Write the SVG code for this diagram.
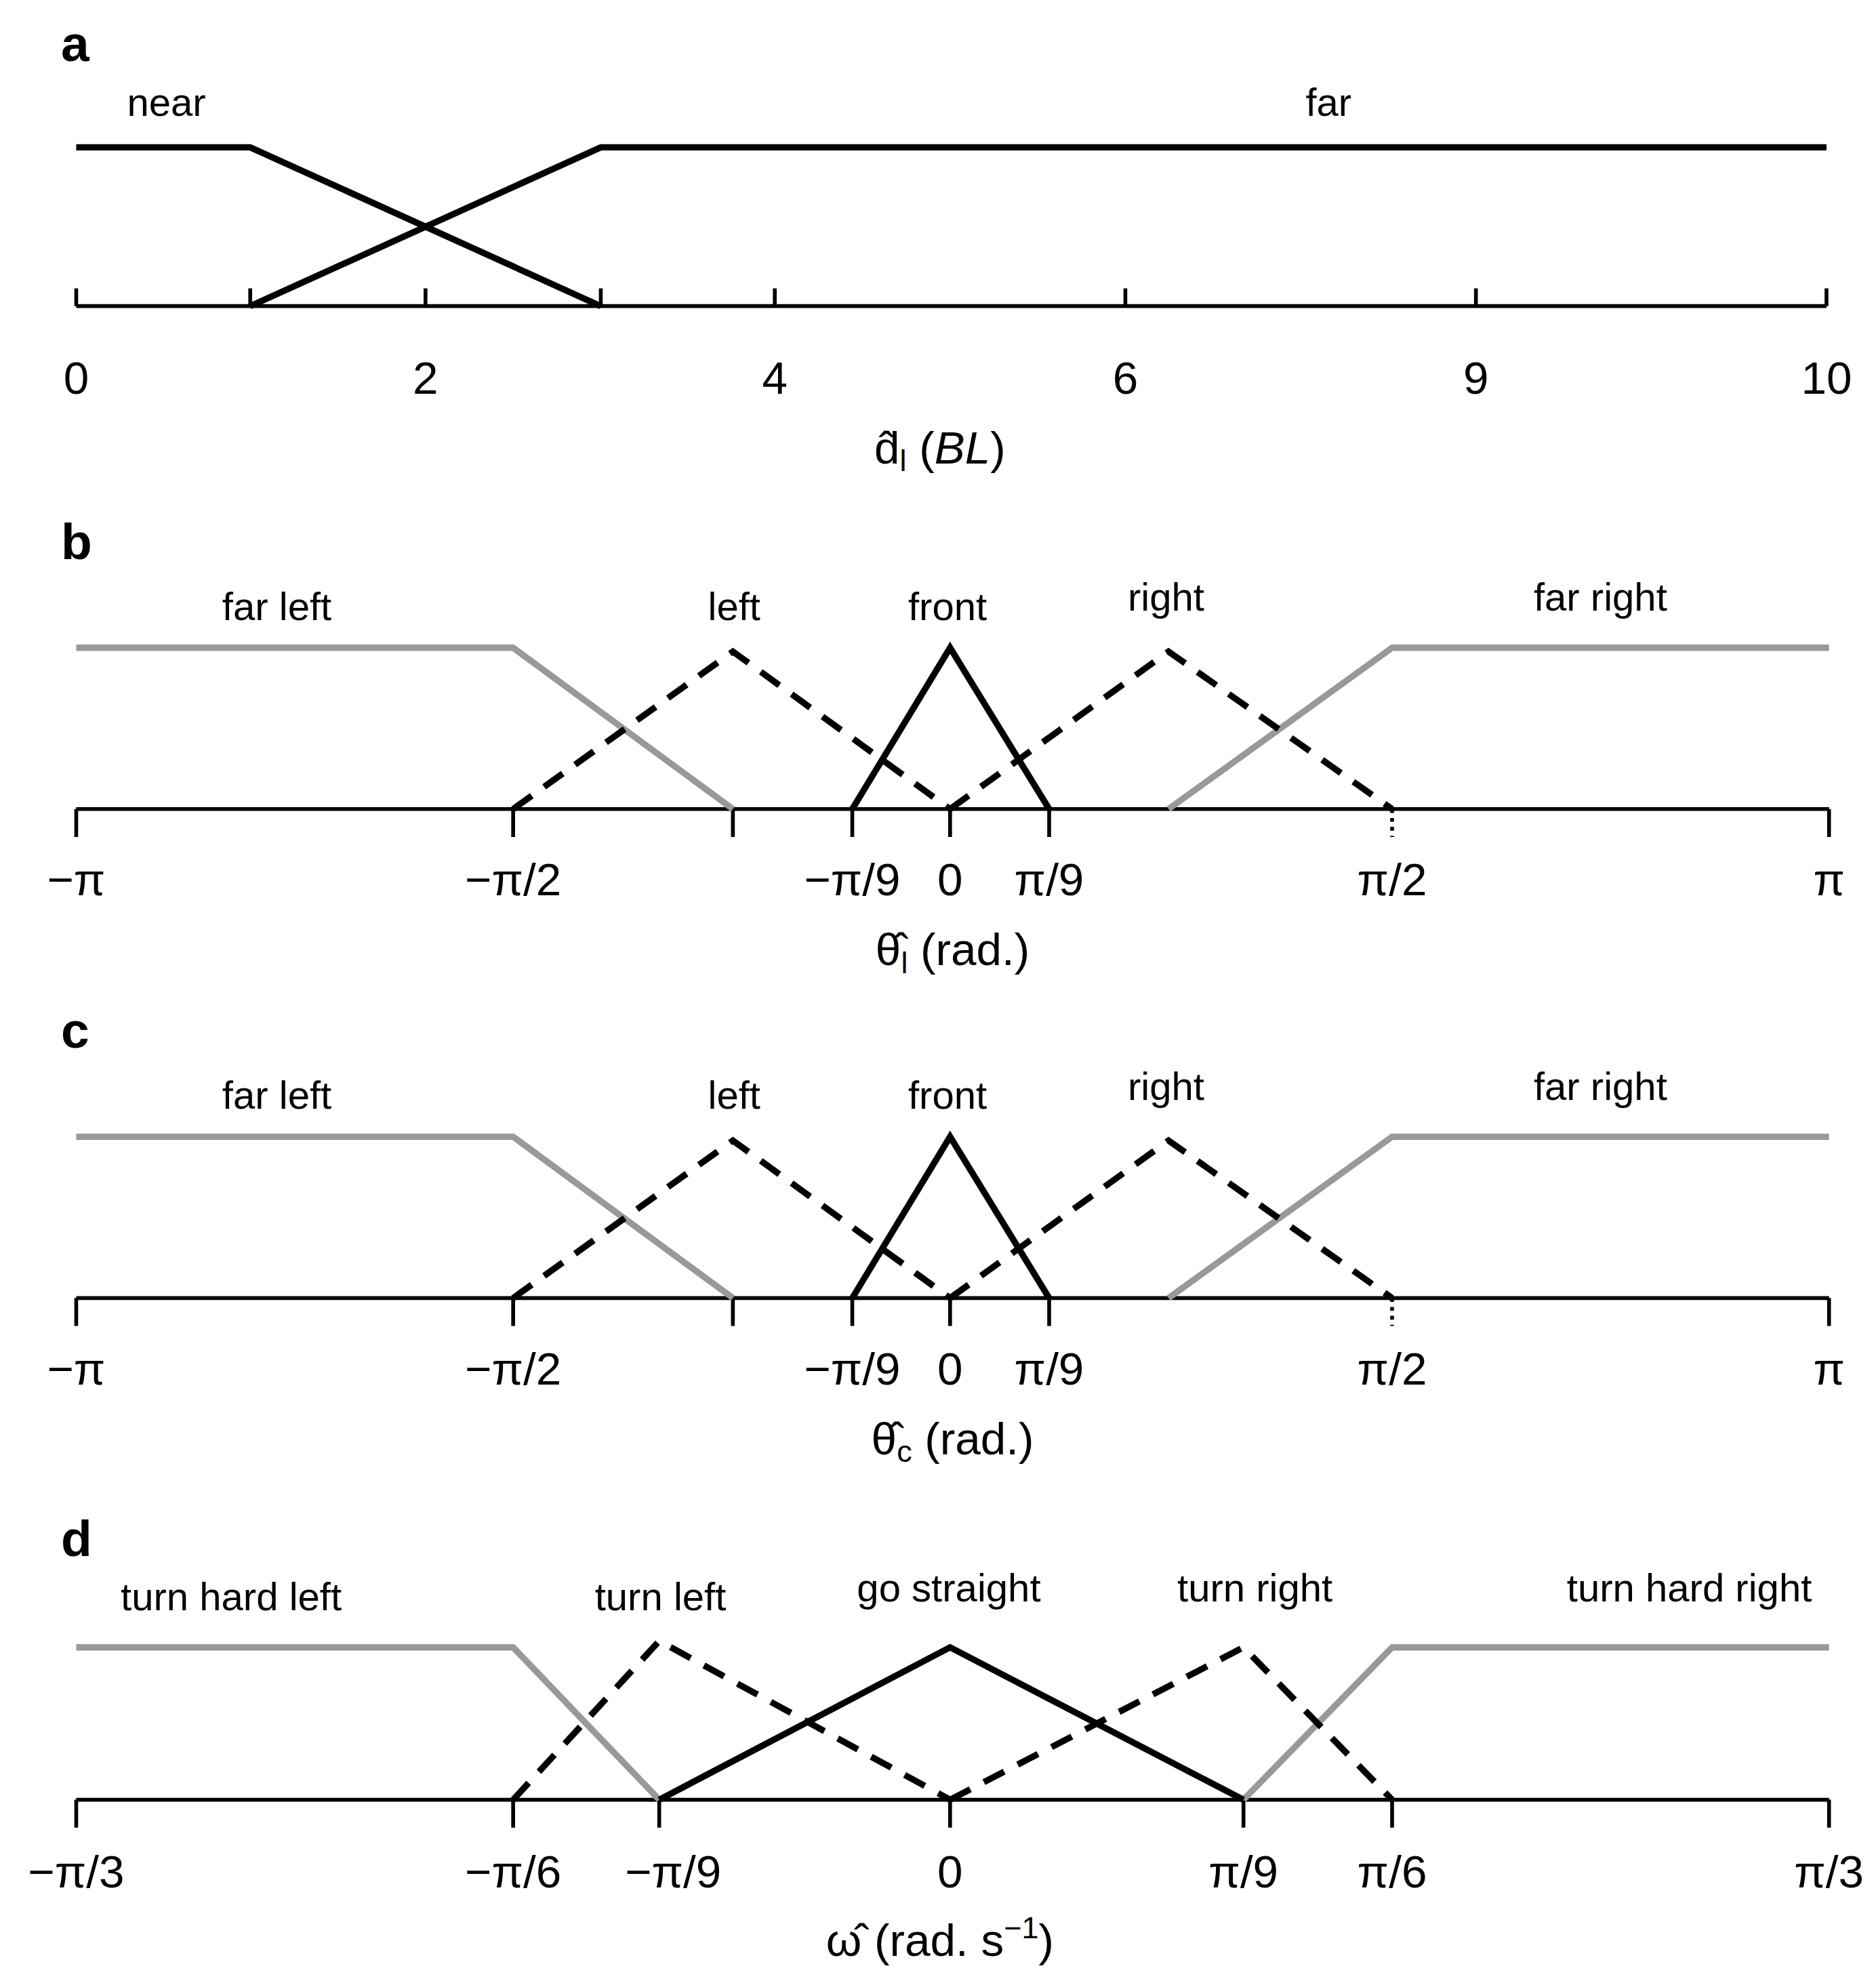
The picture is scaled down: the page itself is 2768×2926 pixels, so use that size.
<svg xmlns="http://www.w3.org/2000/svg" width="2768" height="2926" viewBox="0 0 2768 2926">
<style>
text{font-family:"Liberation Sans",Arial,sans-serif;fill:#000}
.t{font-size:36px;text-anchor:middle}
.c{font-size:31px;text-anchor:middle}
.p{font-size:40px;font-weight:bold}
.ax{stroke:#000;stroke-width:3;fill:none}
.k{stroke:#000;stroke-width:5;fill:none;stroke-linejoin:miter}
.d{stroke:#000;stroke-width:5;fill:none;stroke-dasharray:18,12}
.g{stroke:#999;stroke-width:5;fill:none}
</style>
<rect width="2768" height="2926" fill="#fff"/>
<g transform="scale(1.8741)">
<g id="panel-a">
<text class="p" x="48" y="48">a</text>
<text class="c" x="131" y="91">near</text>
<text class="c" x="1046" y="91">far</text>
<path class="ax" d="M60 241H1438M60 241v-14M197 241v-14M335 241v-14M473 241v-14M610 241v-14M886 241v-14M1162 241v-14M1438 241v-14"/>
<g id="connectors-a">
<polyline class="k" points="60,116 197,116 473,241"/>
<polyline class="k" points="197,241 473,116 1438,116"/>
</g>
<text class="t" x="60" y="310">0</text><text class="t" x="335" y="310">2</text><text class="t" x="610" y="310">4</text><text class="t" x="886" y="310">6</text><text class="t" x="1162" y="310">9</text><text class="t" x="1438" y="310">10</text>
<text class="t" x="740" y="365">d̂<tspan font-size="24" dy="6">l</tspan><tspan dy="-6"> (</tspan><tspan font-style="italic">BL</tspan>)</text>
</g>
<g id="panel-b">
<text class="p" x="48" y="440">b</text>
<text class="c" x="218" y="488">far left</text><text class="c" x="578" y="488">left</text><text class="c" x="746" y="488">front</text><text class="c" x="918" y="481">right</text><text class="c" x="1260" y="481">far right</text>
<path class="ax" d="M60 637H1440M60 637v22M404 637v22M577 637v22M671 637v22M748 637v22M826 637v22M1440 637v22"/>
<path class="ax" d="M1096 637v22" stroke-dasharray="3,4"/>
<g id="connectors-b">
<polyline class="g" points="60,510 404,510 577,637"/>
<polyline class="g" points="920,637 1096,510 1440,510"/>
<polyline class="d" points="404,637 577,513 748,637"/>
<polyline class="d" points="748,637 920,513 1096,637"/>
<polyline class="k" points="671,637 748,510 826,637"/>
</g>
<text class="t" x="60" y="705">−π</text><text class="t" x="404" y="705">−π/2</text><text class="t" x="671" y="705">−π/9</text><text class="t" x="748" y="705">0</text><text class="t" x="826" y="705">π/9</text><text class="t" x="1096" y="705">π/2</text><text class="t" x="1440" y="705">π</text>
<text class="t" x="750" y="760">θ̂<tspan font-size="24" dy="6">l</tspan><tspan dy="-6"> (rad.)</tspan></text>
</g>
<g id="panel-c" transform="translate(0,385)">
<text class="p" x="48" y="440">c</text>
<text class="c" x="218" y="488">far left</text><text class="c" x="578" y="488">left</text><text class="c" x="746" y="488">front</text><text class="c" x="918" y="481">right</text><text class="c" x="1260" y="481">far right</text>
<path class="ax" d="M60 637H1440M60 637v22M404 637v22M577 637v22M671 637v22M748 637v22M826 637v22M1440 637v22"/>
<path class="ax" d="M1096 637v22" stroke-dasharray="3,4"/>
<g id="connectors-c">
<polyline class="g" points="60,510 404,510 577,637"/>
<polyline class="g" points="920,637 1096,510 1440,510"/>
<polyline class="d" points="404,637 577,513 748,637"/>
<polyline class="d" points="748,637 920,513 1096,637"/>
<polyline class="k" points="671,637 748,510 826,637"/>
</g>
<text class="t" x="60" y="705">−π</text><text class="t" x="404" y="705">−π/2</text><text class="t" x="671" y="705">−π/9</text><text class="t" x="748" y="705">0</text><text class="t" x="826" y="705">π/9</text><text class="t" x="1096" y="705">π/2</text><text class="t" x="1440" y="705">π</text>
<text class="t" x="750" y="760">θ̂<tspan font-size="24" dy="6">c</tspan><tspan dy="-6"> (rad.)</tspan></text>
</g>
<g id="panel-d">
<text class="p" x="48" y="1225">d</text>
<text class="c" x="182" y="1268">turn hard left</text><text class="c" x="520" y="1268">turn left</text><text class="c" x="747" y="1261">go straight</text><text class="c" x="988" y="1261">turn right</text><text class="c" x="1330" y="1261">turn hard right</text>
<path class="ax" d="M60 1417H1440M60 1417v22M404 1417v22M519 1417v22M748 1417v22M979 1417v22M1096 1417v22M1440 1417v22"/>
<g id="connectors-d">
<polyline class="g" points="60,1297 404,1297 519,1417"/>
<polyline class="g" points="979,1417 1096,1297 1440,1297"/>
<polyline class="d" points="404,1417 519,1292 748,1417"/>
<polyline class="d" points="748,1417 979,1297 1096,1417"/>
<polyline class="k" points="519,1417 748,1297 979,1417"/>
</g>
<text class="t" x="60" y="1486">−π/3</text><text class="t" x="404" y="1486">−π/6</text><text class="t" x="530" y="1486">−π/9</text><text class="t" x="748" y="1486">0</text><text class="t" x="979" y="1486">π/9</text><text class="t" x="1096" y="1486">π/6</text><text class="t" x="1440" y="1486">π/3</text>
<text class="t" x="740" y="1540">ω̂ (rad. s<tspan font-size="24" dy="-14">−1</tspan><tspan dy="14">)</tspan></text>
</g>
</g>
</svg>
